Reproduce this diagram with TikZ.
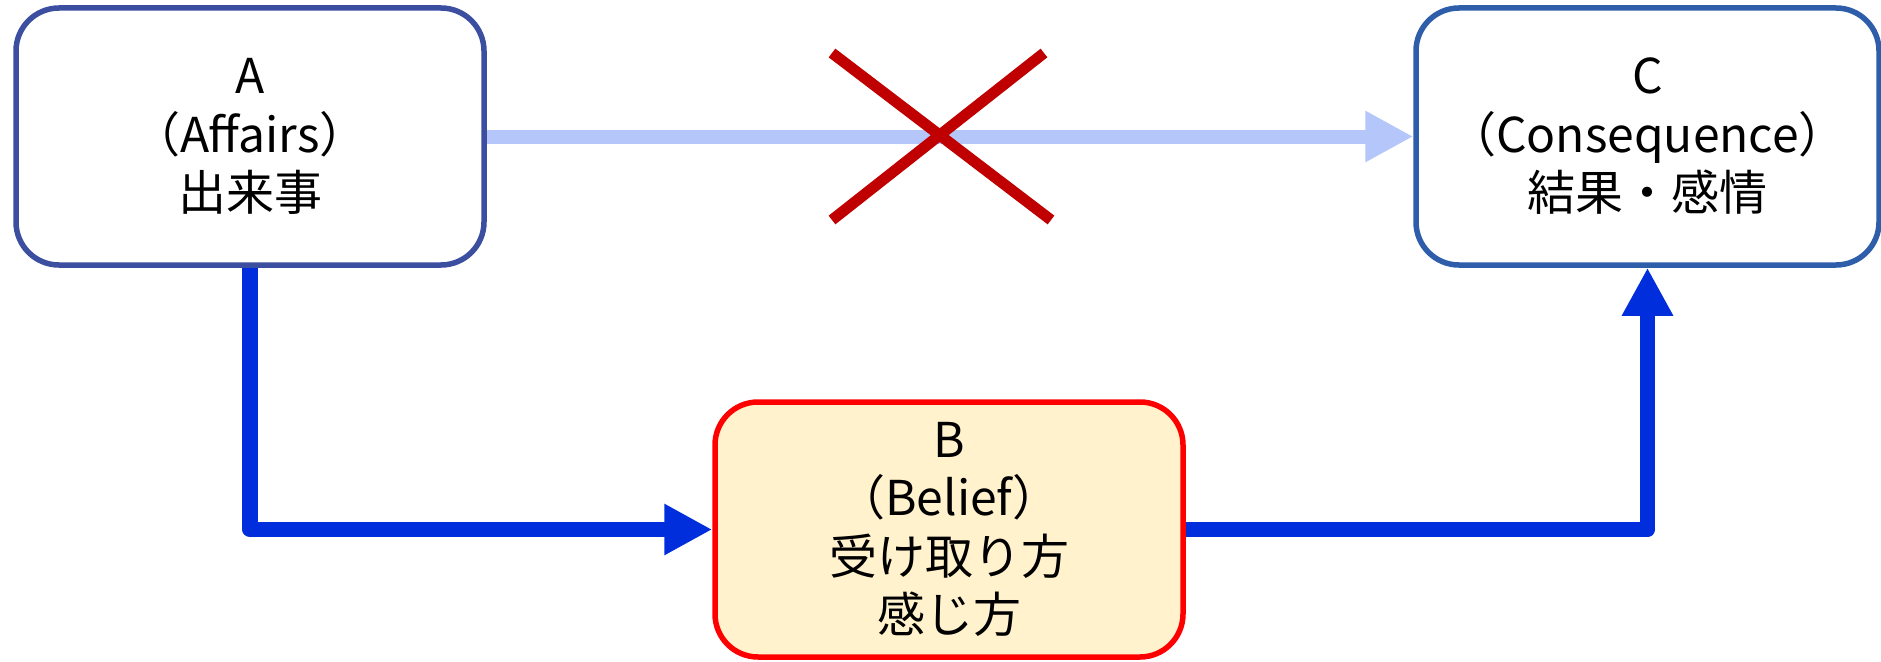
\documentclass[tikz,border=0pt]{standalone}
\usepackage{fontspec}
\setmainfont{Noto Sans CJK JP}
\usetikzlibrary{arrows.meta}
\definecolor{borderA}{RGB}{60,78,160}
\definecolor{borderC}{RGB}{46,94,170}
\definecolor{arrowblue}{RGB}{0,46,220}
\definecolor{lightblue}{RGB}{180,198,250}
\definecolor{crossred}{RGB}{192,0,0}
\definecolor{fillB}{RGB}{255,242,204}
\begin{document}
\begin{tikzpicture}[x=1pt,y=-1pt,
  box/.style={draw, rounded corners=43pt, line width=5.5pt, align=center, inner sep=0pt, minimum height=257pt, font=\fontsize{48}{58.5}\selectfont},
  flow/.style={draw=arrowblue, line width=15.5pt, line join=round, -{Triangle[length=48pt,width=48pt]}},
  blocked/.style={draw=lightblue, line width=14pt, -{Triangle[length=48pt,width=48pt]}},
  crossline/.style={draw=crossred, line width=11pt}]
\useasboundingbox (0,0) rectangle (1881,661);
\node[box, draw=borderA, fill=white, minimum width=468pt] (A) at (250,136.5) {A\\（Affairs）\\出来事};
\node[box, draw=borderC, fill=white, minimum width=463pt] (C) at (1647.5,136.5) {C\\（Consequence）\\結果・感情};
\node[box, draw=red, fill=fillB, minimum width=468pt, minimum height=255pt] (B) at (949,529.5) {B\\（Belief）\\受け取り方\\感じ方};
\draw[blocked] (A.east) -- (C.west);
\draw[flow] (A.south) |- (B.west);
\draw[flow] (B.east) -| (C.south);
\coordinate (x1) at (832,53);
\coordinate (x2) at (1051,220);
\coordinate (x3) at (1044,53);
\coordinate (x4) at (832,220);
\draw[crossline] (x1) -- (x2);
\draw[crossline] (x3) -- (x4);
\end{tikzpicture}
\end{document}
